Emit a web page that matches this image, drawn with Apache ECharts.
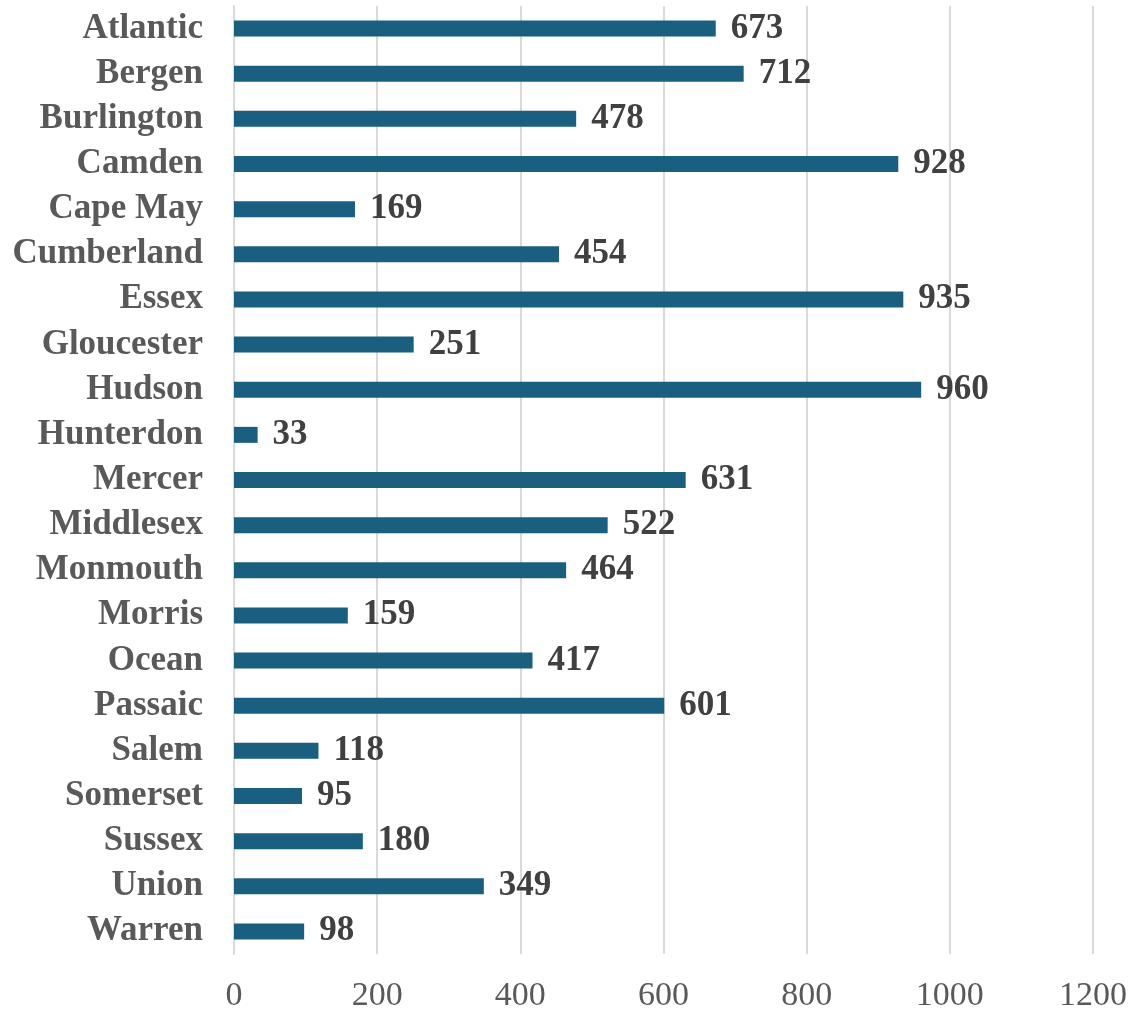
<!DOCTYPE html>
<html>
<head>
<meta charset="utf-8">
<script src="https://cdn.jsdelivr.net/npm/echarts@6/dist/echarts.min.js"></script>
<style>
html,body{margin:0;padding:0;background:#fff;}
#chart{width:1135px;height:1013px;}
</style>
</head>
<body>
<div id="chart"></div>
<script>
const categories = ["Atlantic","Bergen","Burlington","Camden","Cape May","Cumberland","Essex","Gloucester","Hudson","Hunterdon","Mercer","Middlesex","Monmouth","Morris","Ocean","Passaic","Salem","Somerset","Sussex","Union","Warren"];
const values = [673,712,478,928,169,454,935,251,960,33,631,522,464,159,417,601,118,95,180,349,98];
const xTicks = {min:0, max:1200, interval:200};

const chart = echarts.init(document.getElementById('chart'));
chart.setOption({
  animation:false,
  backgroundColor:'#ffffff',
  grid:{left:234, right:42, top:6, bottom:58, containLabel:false},
  xAxis:{
    type:'value', min:xTicks.min, max:xTicks.max, interval:xTicks.interval,
    axisLine:{show:false}, axisTick:{show:false},
    splitLine:{show:true, lineStyle:{color:'#d9d9d9', width:2}},
    axisLabel:{fontFamily:'Liberation Serif', fontSize:34, color:'#595959', margin:25, formatter:function(v){return String(v);}}
  },
  yAxis:{
    type:'category', data:categories, inverse:true,
    axisLine:{show:true, lineStyle:{color:'#d9d9d9', width:2}},
    axisTick:{show:false},
    axisLabel:{interval:0, fontFamily:'Liberation Serif', fontWeight:'bold', fontSize:35, color:'#595959', margin:31}
  },
  series:[{
    type:'bar', data:values, barWidth:16,
    itemStyle:{color:'#1a5e80'},
    label:{show:true, position:'right', distance:15, fontFamily:'Liberation Serif', fontWeight:'bold', fontSize:35, color:'#404040'}
  }]
});
</script>
</body>
</html>
